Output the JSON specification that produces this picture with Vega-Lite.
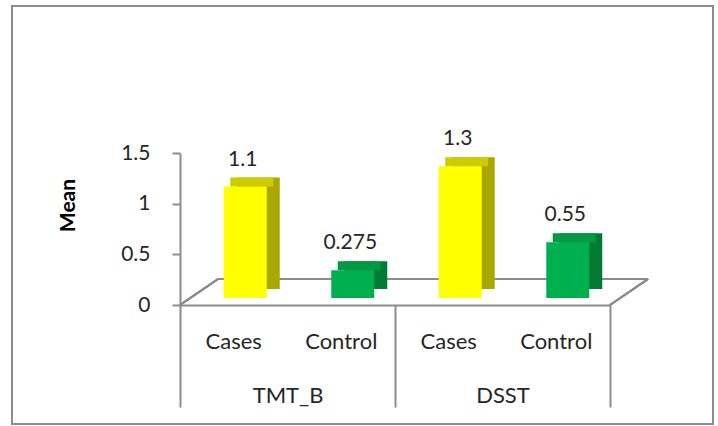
{
  "$schema": "https://vega.github.io/schema/vega-lite/v6.json",
  "width": 701,
  "height": 418,
  "autosize": {"type": "none"},
  "padding": {"left": 12, "top": 6, "right": 5, "bottom": 2},
  "background": "white",
  "config": {
    "view": {"stroke": "#8c8c8c", "strokeWidth": 2},
    "font": "Lato"
  },
  "data": {
    "values": [
      {"test": "TMT_B", "group": "Cases", "mean": 1.1},
      {"test": "TMT_B", "group": "Control", "mean": 0.275},
      {"test": "DSST", "group": "Cases", "mean": 1.3},
      {"test": "DSST", "group": "Control", "mean": 0.55}
    ]
  },
  "encoding": {
    "x": {
      "field": "test",
      "type": "nominal",
      "sort": ["TMT_B", "DSST"],
      "scale": {"range": [168, 598], "paddingInner": 0, "paddingOuter": 0},
      "axis": {
        "title": null,
        "orient": "bottom",
        "offset": -119,
        "domainColor": "#8c8c8c",
        "domainWidth": 2,
        "tickColor": "#8c8c8c",
        "tickWidth": 2,
        "tickSize": 102,
        "tickBand": "extent",
        "labelFontSize": 22,
        "labelColor": "#262626",
        "labelPadding": -12,
        "labelBaseline": "middle",
        "labelAngle": 0
      }
    },
    "y": {
      "field": "mean",
      "type": "quantitative",
      "scale": {"domain": [0, 1.5], "range": [299, 147], "nice": false, "zero": false, "clamp": false},
      "axis": {
        "title": "Mean",
        "titleFontWeight": "bold",
        "titleFontSize": 21,
        "titleColor": "black",
        "titleX": -112,
        "titleY": 199,
        "titleAngle": -90,
        "titleAlign": "center",
        "titleBaseline": "middle",
        "offset": -168,
        "values": [0, 0.5, 1, 1.5],
        "labelExpr": "'' + datum.value",
        "labelFontSize": 21,
        "labelColor": "#262626",
        "labelPadding": 22,
        "tickSize": 8,
        "tickColor": "#8c8c8c",
        "tickWidth": 2,
        "domainColor": "#8c8c8c",
        "domainWidth": 2,
        "grid": false
      }
    }
  },
  "resolve": {"scale": {"xOffset": "independent"}},
  "layer": [
    {
      "mark": {"type": "rule", "color": "#8c8c8c", "strokeWidth": 2},
      "encoding": {
        "x": {"datum": "TMT_B", "bandPosition": 0.177},
        "x2": {"datum": "DSST"},
        "y": {"datum": 0.257}
      }
    },
    {
      "mark": {"type": "rule", "color": "#8c8c8c", "strokeWidth": 2},
      "encoding": {
        "x": {"datum": "DSST", "bandPosition": 1.177},
        "x2": {"datum": "DSST"},
        "y": {"datum": 0.257}
      }
    },
    {
      "mark": {"type": "rule", "color": "#8c8c8c", "strokeWidth": 2},
      "encoding": {
        "x": {"datum": "TMT_B", "bandPosition": 0},
        "x2": {"datum": "TMT_B", "bandPosition": 0.177},
        "y": {"datum": 0},
        "y2": {"datum": 0.257}
      }
    },
    {
      "mark": {"type": "rule", "color": "#8c8c8c", "strokeWidth": 2},
      "encoding": {
        "x": {"datum": "DSST", "bandPosition": 1},
        "x2": {"datum": "DSST", "bandPosition": 1.177},
        "y": {"datum": 0},
        "y2": {"datum": 0.257}
      }
    },
    {
      "mark": {"type": "bar", "yOffset": -16},
      "encoding": {
        "xOffset": {"field": "group", "type": "nominal", "sort": ["Cases", "Control"], "scale": {"range": [24.5, 239.5], "paddingInner": 0.6, "paddingOuter": 0.3}},
        "color": {"condition": {"test": "datum.group === 'Cases'", "value": "#a8a800"}, "value": "#007a35"}
      }
    },
    {
      "mark": {"type": "bar", "yOffset": -16, "y2Offset": -7},
      "encoding": {
        "xOffset": {"field": "group", "type": "nominal", "sort": ["Cases", "Control"], "scale": {"range": [18, 233], "paddingInner": 0.6, "paddingOuter": 0.3}},
        "y2": {"field": "mean"},
        "color": {"condition": {"test": "datum.group === 'Cases'", "value": "#cccc00"}, "value": "#009a44"}
      }
    },
    {
      "mark": {"type": "bar", "yOffset": -7},
      "encoding": {
        "xOffset": {"field": "group", "type": "nominal", "sort": ["Cases", "Control"], "scale": {"range": [11.5, 226.5], "paddingInner": 0.6, "paddingOuter": 0.3}},
        "color": {"condition": {"test": "datum.group === 'Cases'", "value": "#ffff00"}, "value": "#00b050"}
      }
    },
    {
      "mark": {"type": "text", "dy": -34, "baseline": "middle", "fontSize": 21, "color": "#262626"},
      "encoding": {
        "xOffset": {"field": "group", "type": "nominal", "sort": ["Cases", "Control"], "scale": {"range": [9, 224], "padding": 0.5}},
        "text": {"field": "mean", "type": "quantitative"}
      }
    },
    {
      "mark": {"type": "text", "baseline": "middle", "fontSize": 22, "color": "#262626"},
      "encoding": {
        "xOffset": {"field": "group", "type": "nominal", "sort": ["Cases", "Control"], "scale": {"range": [0, 215], "padding": 0.5}},
        "y": {"datum": -0.37},
        "text": {"field": "group", "type": "nominal"}
      }
    }
  ]
}
